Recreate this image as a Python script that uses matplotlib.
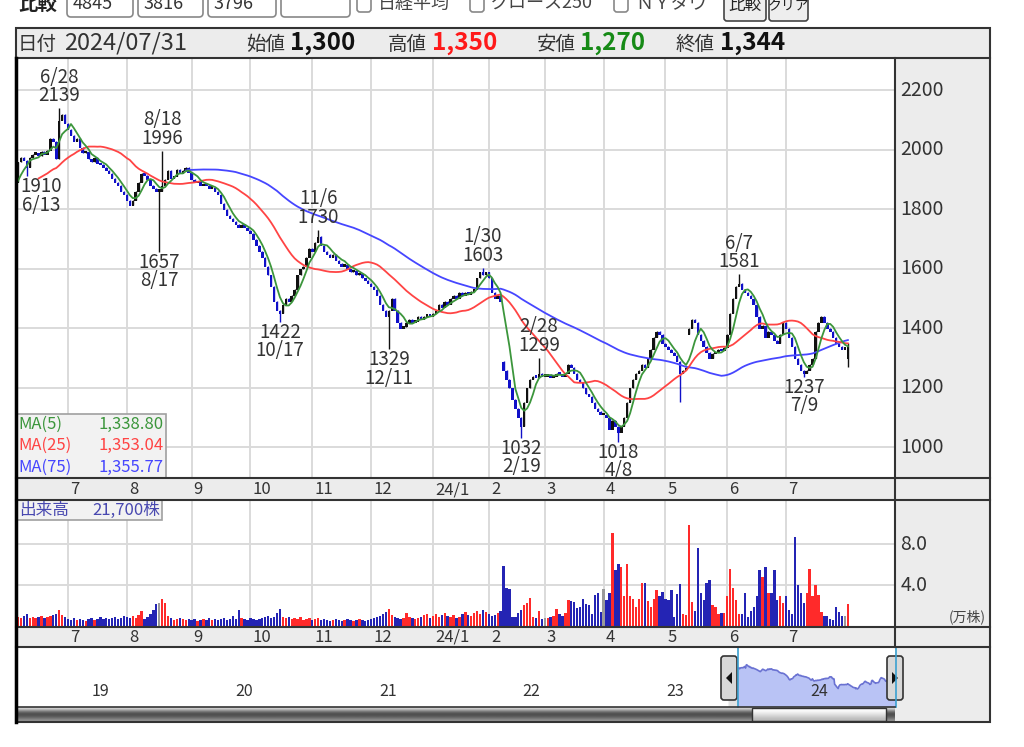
import numpy as np
import matplotlib
matplotlib.use('Agg')
import matplotlib.pyplot as plt
from matplotlib.patches import Rectangle, FancyBboxPatch, Polygon
from matplotlib.transforms import blended_transform_factory

plt.rcParams['font.family'] = ['Noto Sans CJK JP', 'DejaVu Sans']

W, H = 1024, 747

# trading days per month in the window (first entry = 2023/6/8 .. 6/30)
month_days = [17, 20, 22, 20, 21, 20, 21, 19, 19, 20, 21, 21, 20, 22]
month_labels = ['7', '8', '9', '10', '11', '12', '24/1', '2', '3', '4', '5', '6', '7']

# closes before the window (only used for the moving averages / navigator)
pre_closes = [1850, 1845, 1860, 1855, 1870, 1865, 1880, 1875, 1870, 1885,
              1880, 1890, 1870, 1875, 1880, 1870, 1890]

c_2306 = [1960, 1975, 1965, 1940, 1975, 1985, 1990, 1980, 1995, 1985,
          2000, 2040, 2030, 1970, 2100, 2120, 2090]
c_2307 = [2070, 2050, 2030, 2040, 2010, 1990, 1995, 1970, 1960, 1975,
          1955, 1950, 1940, 1930, 1920, 1905, 1890, 1880, 1860, 1850]
c_2308 = [1830, 1815, 1830, 1860, 1890, 1920, 1915, 1900, 1880, 1870,
          1860, 1860, 1880, 1900, 1930, 1905, 1910, 1935, 1920, 1930,
          1940, 1925]
c_2309 = [1900, 1890, 1895, 1880, 1885, 1880, 1870, 1875, 1860, 1850,
          1820, 1800, 1780, 1770, 1760, 1750, 1740, 1750, 1740, 1730]
c_2310 = [1720, 1700, 1680, 1660, 1640, 1610, 1580, 1540, 1490, 1460,
          1450, 1480, 1500, 1490, 1510, 1530, 1580, 1600, 1610, 1640, 1670]
c_2311 = [1660, 1690, 1710, 1680, 1660, 1650, 1640, 1650, 1630, 1620,
          1610, 1615, 1600, 1590, 1595, 1580, 1585, 1570, 1560, 1550]
c_2312 = [1540, 1530, 1510, 1480, 1460, 1440, 1460, 1500, 1460, 1420,
          1400, 1405, 1420, 1430, 1420, 1425, 1440, 1430, 1440, 1445, 1440]
c_2401 = [1450, 1460, 1480, 1470, 1490, 1480, 1500, 1510, 1500, 1520,
          1510, 1520, 1515, 1525, 1530, 1570, 1590, 1580, 1590]
c_2402 = [1570, 1520, 1500, 1510, 1490, 1260, 1230, 1200, 1160, 1130,
          1100, 1070, 1150, 1200, 1230, 1240, 1235, 1250, 1240]
c_2403 = [1240, 1245, 1235, 1240, 1250, 1245, 1240, 1250, 1280, 1270,
          1250, 1230, 1220, 1200, 1180, 1170, 1150, 1130, 1120, 1110]
c_2404 = [1110, 1100, 1060, 1090, 1070, 1050, 1070, 1100, 1150, 1200,
          1230, 1250, 1260, 1280, 1270, 1300, 1330, 1370, 1390, 1380, 1350]
c_2405 = [1340, 1330, 1320, 1310, 1290, 1250, 1260, 1270, 1400, 1430,
          1420, 1380, 1360, 1340, 1320, 1300, 1315, 1320, 1330, 1325, 1335]
c_2406 = [1380, 1450, 1500, 1540, 1550, 1530, 1520, 1510, 1500, 1480,
          1440, 1400, 1410, 1370, 1390, 1380, 1360, 1350, 1380, 1420]
c_2407 = [1400, 1370, 1340, 1300, 1280, 1260, 1250, 1260, 1280, 1300,
          1390, 1420, 1440, 1420, 1400, 1390, 1370, 1350, 1340, 1330, 1330, 1344]

# opens that differ from the previous close (gaps)
gap_opens = {165: 1290, 228: 1380, 282: 1300}
# wick extremes
wick_hi = {14: 2139, 49: 1996, 102: 1730, 158: 1603, 177: 1299, 245: 1581, 282: 1350}
wick_lo = {3: 1910, 48: 1657, 89: 1422, 126: 1329, 171: 1032, 204: 1018,
           225: 1150, 267: 1237, 282: 1270}
hi_labels = [(14, '6/28'), (49, '8/18'), (102, '11/6'), (158, '1/30'), (177, '2/28'), (245, '6/7')]
lo_labels = [(3, '6/13'), (48, '8/17'), (89, '10/17'), (126, '12/11'), (171, '2/19'), (204, '4/8'), (267, '7/9')]

# volume, 10k shares
v_2306 = [0.9, 0.8, 1.0, 1.2, 0.8, 0.9, 0.8, 0.9, 1.0, 0.8, 0.9, 1.0, 1.1, 1.2, 1.6, 1.1, 0.9]
v_2307 = [0.7, 0.6, 0.8, 0.6, 0.7, 0.6, 0.5, 0.7, 0.8, 0.6, 0.7, 0.9, 0.7, 0.8, 0.7, 0.8, 0.9, 0.7, 0.8, 1.0]
v_2308 = [0.9, 0.8, 1.0, 0.8, 1.1, 1.5, 0.7, 0.9, 1.2, 1.6, 2.1, 2.2, 2.6, 2.2, 1.0, 0.8, 0.6, 0.7, 0.8, 0.7, 0.6, 0.7]
v_2309 = [0.6, 0.7, 0.5, 0.6, 0.7, 0.6, 0.8, 0.6, 0.7, 0.6, 0.7, 0.8, 0.6, 0.7, 1.0, 0.7, 1.6, 0.8, 0.7, 0.6]
v_2310 = [0.8, 0.7, 0.6, 0.7, 0.8, 0.9, 1.0, 0.8, 0.9, 1.3, 1.7, 0.9, 0.8, 0.9, 0.7, 0.8, 0.7, 0.9, 0.6, 0.7, 0.8]
v_2311 = [0.6, 0.7, 0.8, 0.6, 0.7, 0.6, 0.5, 0.6, 0.7, 0.6, 0.5, 0.6, 0.7, 0.6, 0.5, 0.6, 0.7, 0.6, 0.5, 0.6]
v_2312 = [0.7, 0.8, 0.9, 1.0, 1.2, 1.4, 1.7, 1.1, 0.9, 0.8, 0.7, 0.8, 1.3, 0.9, 0.8, 0.7, 0.8, 0.9, 1.1, 1.2, 0.8]
v_2401 = [1.0, 1.2, 0.9, 1.1, 1.3, 1.0, 0.9, 1.1, 0.8, 0.9, 1.2, 1.4, 1.1, 1.0, 1.3, 1.5, 1.2, 1.6, 1.4]
v_2402 = [1.2, 1.0, 1.1, 1.3, 1.5, 5.9, 3.7, 3.6, 0.9, 0.9, 1.3, 1.6, 2.0, 2.2, 2.7, 0.9, 0.8, 1.5, 0.7]
v_2403 = [0.8, 0.8, 0.9, 1.0, 1.7, 1.2, 1.0, 1.3, 2.5, 2.4, 2.3, 1.8, 1.9, 2.6, 2.1, 2.0, 1.2, 3.0, 3.2, 1.4]
v_2404 = [3.6, 2.5, 3.2, 9.1, 5.5, 6.1, 5.8, 2.9, 6.1, 2.9, 2.6, 1.9, 2.6, 4.2, 4.2, 2.4, 1.9, 2.6, 3.5, 2.9, 3.3]
v_2405 = [2.6, 2.5, 3.5, 0.9, 3.1, 4.1, 1.2, 1.1, 9.9, 2.3, 1.5, 7.6, 3.2, 2.5, 4.2, 4.5, 2.0, 1.9, 1.2, 1.3, 1.3]
v_2406 = [2.9, 5.6, 3.7, 2.5, 1.2, 1.2, 3.2, 0.9, 1.5, 1.9, 2.9, 5.5, 4.8, 5.8, 3.2, 3.2, 5.5, 2.5, 2.9, 2.2]
v_2407 = [2.9, 1.6, 1.2, 8.7, 4.0, 3.2, 2.2, 3.2, 5.6, 2.9, 4.0, 3.0, 1.4, 1.0, 1.0, 0.7, 0.6, 1.9, 1.4, 1.0, 1.0, 2.17]

price_ticks = [1000, 1200, 1400, 1600, 1800, 2000, 2200]
vol_ticks = [4.0, 8.0]
nav_years = ['19', '20', '21', '22', '23', '24']

closes = np.array(c_2306 + c_2307 + c_2308 + c_2309 + c_2310 + c_2311 + c_2312 +
                  c_2401 + c_2402 + c_2403 + c_2404 + c_2405 + c_2406 + c_2407, dtype=float)
volumes = np.array(v_2306 + v_2307 + v_2308 + v_2309 + v_2310 + v_2311 + v_2312 +
                   v_2401 + v_2402 + v_2403 + v_2404 + v_2405 + v_2406 + v_2407)
n = len(closes)
idx = np.arange(n)
month_starts = np.cumsum(month_days)[:-1]

opens = np.r_[pre_closes[-1], closes[:-1]]
for k, v in gap_opens.items():
    opens[k] = v
highs = np.maximum(opens, closes)
lows = np.minimum(opens, closes)
for k, v in wick_hi.items():
    highs[k] = v
for k, v in wick_lo.items():
    lows[k] = v

allc = np.r_[pre_closes, closes]
npre = len(pre_closes)


def sma(a, w):
    out = np.full(len(a), np.nan)
    cs = np.cumsum(np.r_[0, a])
    out[w - 1:] = (cs[w:] - cs[:-w]) / w
    return out


ma5 = sma(allc, 5)[npre:]
ma25 = sma(allc, 25)[npre:]
ma75 = sma(allc, 75)[npre:]

fig = plt.figure(figsize=(W / 100, H / 100), dpi=100)


def px_axes(x0, y0, x1, y1, z=1):
    return fig.add_axes([x0 / W, 1 - y1 / H, (x1 - x0) / W, (y1 - y0) / H], zorder=z)


bg = px_axes(0, 0, W, H, 0)
bg.set_xlim(0, W)
bg.set_ylim(H, 0)
bg.axis('off')
gray = '#ececec'
for (x0, y0, x1, y1) in [(16, 28, 990, 58), (895, 58, 990, 478), (16, 478, 990, 500),
                         (895, 500, 990, 627), (16, 627, 990, 647), (895, 647, 990, 722)]:
    bg.add_patch(Rectangle((x0, y0), x1 - x0, y1 - y0, facecolor=gray, edgecolor='none'))

grid_c = '#dadada'

# ---------- price panel ----------
ax = px_axes(16, 58, 895, 478, 2)
ax.set_xlim(-0.68, 298)
ax.set_ylim(896, 2308)
ax.axis('off')
for p in price_ticks:
    ax.axhline(p, color=grid_c, lw=1.4, zorder=0)
    ax.text(1.006, p, str(p), transform=ax.get_yaxis_transform(), ha='left', va='center',
            fontsize=14, color='#333333', clip_on=False)
for s in month_starts:
    ax.axvline(s, color=grid_c, lw=1.4, zorder=0)

up_col, dn_col = '#111111', '#1010c8'
ccol = np.where(closes >= opens, up_col, dn_col)
ax.vlines(idx, lows, highs, colors=ccol, lw=1.0, zorder=2)
ax.bar(idx, np.maximum(np.abs(closes - opens), 9), bottom=np.minimum(opens, closes) - 3,
       width=0.85, color=ccol, linewidth=0, zorder=2)
ax.plot(idx, ma75, color='#4646ff', lw=1.3, zorder=3)
ax.plot(idx, ma25, color='#ff4444', lw=1.3, zorder=3)
ax.plot(idx, ma5, color='#3c963c', lw=1.3, zorder=3)

for i, lab in hi_labels:
    ax.annotate(f'{lab}\n{wick_hi[i]}', (i, wick_hi[i]), xytext=(0, 1.5), textcoords='offset points',
                ha='center', va='bottom', fontsize=13.5, linespacing=0.85, color='#333333', zorder=4)
for i, lab in lo_labels:
    off = 10 if i < 6 else 0
    ax.annotate(f'{wick_lo[i]}\n{lab}', (i, wick_lo[i]), xytext=(off, 0), textcoords='offset points',
                ha='center', va='top', fontsize=13.5, linespacing=0.85, color='#333333', zorder=4)

# ---------- volume panel ----------
vx = px_axes(16, 500, 895, 627, 2)
vx.set_xlim(-0.68, 298)
vx.set_ylim(-0.1, 12.3)
vx.axis('off')
for t in vol_ticks:
    vx.axhline(t, color=grid_c, lw=1.4, zorder=0)
    vx.text(1.006, t, f'{t:.1f}', transform=vx.get_yaxis_transform(), ha='left', va='center',
            fontsize=14, color='#333333', clip_on=False)
for s in month_starts:
    vx.axvline(s, color=grid_c, lw=1.4, zorder=0)
vcol = np.where(closes > opens, '#ff2a2a', np.where(closes < opens, '#2424b4', '#9a9a9a'))
vx.bar(idx, volumes, width=0.8, color=vcol, linewidth=0, zorder=2)

# ---------- navigator ----------
nx = px_axes(16, 647, 895, 707, 2)
nav_left, nav_right = -1232, 268
nx.set_xlim(nav_left, nav_right)
nx.set_ylim(256, 2901)
nx.axis('off')
pre_idx = np.arange(-npre, 0)
nx.fill_between(np.r_[pre_idx, 0], np.r_[pre_closes, closes[0]], 256, color='#e2e2e2', lw=0)
nx.plot(np.r_[pre_idx, 0], np.r_[pre_closes, closes[0]], color='#b0b0b0', lw=1.2)
nx.fill_between(idx, closes, 256, color='#b9c3f5', lw=0)
nx.plot(idx, closes, color='#6a72d2', lw=1.2)
year_pos = [-107 - (2023 - (2000 + int(y))) * 245 for y in nav_years]
for yp, y in zip(year_pos, nav_years):
    nx.text(yp, 0.26, y, transform=blended_transform_factory(nx.transData, nx.transAxes),
            ha='center', va='center', fontsize=11.5, color='#333333')

# ---------- overlay (frames, legends, header) ----------
fg = px_axes(0, 0, W, H, 10)
fg.set_xlim(0, W)
fg.set_ylim(H, 0)
fg.axis('off')
fg.patch.set_alpha(0)

# month strips
tr = blended_transform_factory(ax.transData, fg.transData)
for yy in (490, 637):
    for s, lab in zip(month_starts, month_labels):
        fg.text(s + 0.7, yy, lab, transform=tr, ha='left', va='center', fontsize=12, color='#333333')

# MA legend
fg.add_patch(Rectangle((16, 414), 150, 64, facecolor='#f2f2f2', edgecolor='#a0a0a0', lw=1.2))
for yy, name, val, c in [(424, 'MA(5)', '1,338.80', '#3c963c'), (445, 'MA(25)', '1,353.04', '#ff4444'),
                         (467, 'MA(75)', '1,355.77', '#4646ff')]:
    fg.text(18, yy, name, ha='left', va='center', fontsize=12, color=c)
    fg.text(164, yy, val, ha='right', va='center', fontsize=12, color=c)

# volume legend
fg.add_patch(Rectangle((16, 500), 146, 20, facecolor='#f2f2f2', edgecolor='#a0a0a0', lw=1.2))
fg.text(19, 510, '出来高', ha='left', va='center', fontsize=12, color='#4848b0')
fg.text(160, 510, '21,700株', ha='right', va='center', fontsize=12, color='#4848b0')
fg.text(986, 617, '(万株)', ha='right', va='center', fontsize=10, color='#444444')

# info bar
fg.text(18, 44, '日付', ha='left', va='center', fontsize=14, color='#333333')
fg.text(64, 43, '2024/07/31', ha='left', va='center', fontsize=17, color='#333333')
for x_l, lab, x_v, val, c in [(246, '始値', 290, '1,300', '#111111'), (388, '高値', 432, '1,350', '#ff1a1a'),
                              (537, '安値', 580, '1,270', '#168a16'), (676, '終値', 720, '1,344', '#111111')]:
    fg.text(x_l, 44, lab, ha='left', va='center', fontsize=14, color='#333333')
    fg.text(x_v, 43, val, ha='left', va='center', fontsize=17.5, fontweight='bold', color=c)

# navigator handles, scrollbar
sb = px_axes(16, 707, 895, 722, 9)
sb.imshow(np.array([[0.86], [0.55], [0.3], [0.32], [0.45], [0.6]]), cmap='gray', vmin=0, vmax=1,
          aspect='auto', extent=(16, 895, 722, 707), interpolation='bicubic')
sb.set_xlim(16, 895)
sb.set_ylim(722, 707)
sb.axis('off')
sb.imshow(np.array([[1.0], [0.93], [0.82], [0.72]]), cmap='gray', vmin=0, vmax=1, aspect='auto',
          extent=(752, 886, 721, 708), interpolation='bicubic', zorder=3)
sb.add_patch(Rectangle((752, 708), 134, 13, fill=False, edgecolor='#333333', lw=1, zorder=4))

fg.plot([738, 738], [647, 707], color='#3aa0d0', lw=1.2)
fg.plot([896, 896], [647, 707], color='#3aa0d0', lw=1.2)
for cx, d in [(729, -1), (895, 1)]:
    fg.add_patch(FancyBboxPatch((cx - 8, 656), 16, 44, boxstyle='round,pad=0,rounding_size=3',
                                facecolor='#d8d8d8', edgecolor='#333333', lw=1.2))
    fg.add_patch(Polygon([(cx - 3 * d, 672), (cx - 3 * d, 684), (cx + 3 * d, 678)], closed=True,
                         facecolor='#111111', edgecolor='none'))

# frame lines
fc = '#333333'
fg.add_patch(Rectangle((16, 28), 974, 694, fill=False, edgecolor=fc, lw=1.5))
for yy in (58, 478, 500, 627, 647):
    fg.plot([16, 990], [yy, yy], color=fc, lw=1.5)
fg.plot([16, 895], [707, 707], color=fc, lw=1.2)
fg.plot([895, 895], [58, 647], color=fc, lw=1.5)
fg.plot([16, 16], [58, 722], color='#000000', lw=2.5)

# top toolbar (cut off by the window edge)
fg.text(18, 4, '比較', ha='left', va='center', fontsize=14, fontweight='bold', color='#222222')
for x0, x1, t in [(67, 133, '4845'), (138, 203, '3816'), (208, 276, '3796'), (281, 350, '')]:
    fg.add_patch(FancyBboxPatch((x0, -12), x1 - x0, 29, boxstyle='round,pad=0,rounding_size=4',
                                facecolor='white', edgecolor='#888888', lw=1.2))
    fg.text(x0 + 6, 4, t, ha='left', va='center', fontsize=13, color='#333333')
for x0, t in [(357, '日経平均'), (470, 'グロース250'), (614, 'ＮＹダウ')]:
    fg.add_patch(FancyBboxPatch((x0, -8), 14, 20, boxstyle='round,pad=0,rounding_size=3',
                                facecolor='white', edgecolor='#888888', lw=1.2))
    fg.text(x0 + 21, 4, t, ha='left', va='center', fontsize=13, color='#444444')
for x0, x1, t in [(724, 766, '比較'), (769, 808, 'クリア')]:
    fg.add_patch(FancyBboxPatch((x0, -8), x1 - x0, 29, boxstyle='round,pad=0,rounding_size=3',
                                facecolor='#eeeeee', edgecolor='#444444', lw=1.2))
    fg.text((x0 + x1) / 2, 5, t, ha='center', va='center', fontsize=12 if len(t) < 3 else 10,
            color='#222222')

fig.savefig('out.png', dpi=100)
